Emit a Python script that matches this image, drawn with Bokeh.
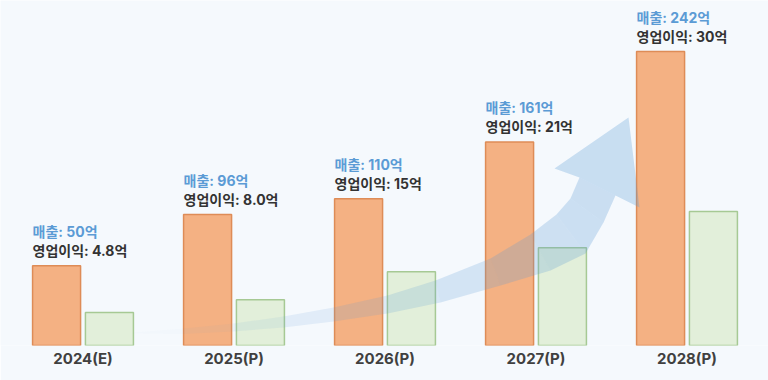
from bokeh.plotting import figure
from bokeh.models import ColumnDataSource, Range1d, FixedTicker
from bokeh.core.properties import value
from bokeh.embed import file_html
from bokeh.resources import INLINE
import numpy as np

# ---- data ----
CATEGORIES = ["2024(E)", "2025(P)", "2026(P)", "2027(P)", "2028(P)"]
REVENUE = [50, 96, 110, 161, 242]            # 매출 (억)
PROFIT = [4.8, 8.0, 15, 21, 30]              # 영업이익 (억)
PROFIT_TEXT = ["4.8", "8.0", "15", "21", "30"]

# ---- style / layout ----
BG = "#f5f9fd"
ORANGE_FILL, ORANGE_LINE = "#f4b183", "#de8c57"
GREEN_FILL, GREEN_LINE = "#e2efda", "#a6c994"
BLUE_TXT, DARK_TXT = "#5b9bd5", "#333333"
FONT = "Inter, Noto Sans CJK KR"
W, H = 768, 380
BOTTOM = 35
FRAME_H = H - BOTTOM
GROUP_PX = 151
X_START = -82.5 / GROUP_PX
REV_RANGE = (-21.6, -21.6 + FRAME_H / 1.115)
PRO_RANGE = (-3.42, -3.42 + FRAME_H / 4.006)
BAR_W = 48 / GROUP_PX
DODGE = 0.175

# decorative arrow outline in page pixels (upper edge, lower edge, head)
ARROW_UPPER = [(133, 332), (183, 328), (233, 323), (283, 316), (333, 307), (387, 295),
               (435, 280), (490, 258), (530, 234), (556, 214), (570, 198), (579, 177)]
ARROW_LOWER = [(133, 333), (183, 333.5), (233, 331), (283, 327), (333, 321), (387, 313),
               (440, 302), (500, 285), (550, 270), (585, 253), (603, 222), (615, 195)]
ARROW_HEAD = [(579, 177), (554, 168), (628, 117), (639, 207), (615, 195)]
ARROW_ALPHA = [0.02, 0.05, 0.09, 0.13, 0.16, 0.19, 0.22, 0.24, 0.26, 0.27, 0.28]
ARROW_COLOR = "#5b9bd5"
MARGIN = 0

idx = np.arange(len(CATEGORIES))
src = ColumnDataSource(dict(
    x_rev=idx - DODGE, x_pro=idx + DODGE, x_txt=idx - DODGE - BAR_W / 2,
    rev=REVENUE, pro=PROFIT,
    rev_label=[f"매출: {v}억" for v in REVENUE],
    pro_label=[f"영업이익: {t}억" for t in PROFIT_TEXT],
))

p = figure(width=W, height=H, output_backend="svg", toolbar_location=None, tools="",
           x_range=Range1d(X_START, X_START + W / GROUP_PX),
           y_range=Range1d(*REV_RANGE), y_axis_location=None,
           min_border_left=0, min_border_right=0, min_border_top=0, min_border_bottom=BOTTOM)
p.extra_y_ranges = {"profit": Range1d(*PRO_RANGE), "py": Range1d(FRAME_H, 0)}
p.extra_x_ranges = {"px": Range1d(0, W)}
p.background_fill_color = BG
p.border_fill_color = BG
p.outline_line_color = None
p.grid.visible = False

p.vbar(x="x_rev", top="rev", bottom=REV_RANGE[0], width=BAR_W, source=src,
       fill_color=ORANGE_FILL, line_color=ORANGE_LINE, line_width=1.5)
p.vbar(x="x_pro", top="pro", bottom=PRO_RANGE[0], width=BAR_W, source=src,
       y_range_name="profit", fill_color=GREEN_FILL, line_color=GREEN_LINE, line_width=1.5)

# arrow (decoration) drawn as quads with increasing opacity
up = np.array(ARROW_UPPER, dtype=float) - MARGIN
lo = np.array(ARROW_LOWER, dtype=float) - MARGIN
for i in range(len(up) - 1):
    xs = [up[i, 0], up[i + 1, 0], lo[i + 1, 0], lo[i, 0]]
    ys = [up[i, 1], up[i + 1, 1], lo[i + 1, 1], lo[i, 1]]
    p.patch(xs, ys, x_range_name="px", y_range_name="py", fill_color=ARROW_COLOR,
            fill_alpha=ARROW_ALPHA[i], line_color=None)
hd = np.array(ARROW_HEAD, dtype=float) - MARGIN
p.patch(hd[:, 0], hd[:, 1], x_range_name="px", y_range_name="py", fill_color=ARROW_COLOR,
        fill_alpha=0.29, line_color=None)

p.text(x="x_txt", y="rev", text="rev_label", source=src, y_offset=-34,
       text_font=value(FONT), text_font_size="14px", text_font_style="bold",
       text_color=BLUE_TXT, text_align="left", text_baseline="middle")
p.text(x="x_txt", y="rev", text="pro_label", source=src, y_offset=-15,
       text_font=value(FONT), text_font_size="14px", text_font_style="bold",
       text_color=DARK_TXT, text_align="left", text_baseline="middle")

ax = p.xaxis[0]
ax.ticker = FixedTicker(ticks=list(idx))
ax.major_label_overrides = {int(i): c for i, c in zip(idx, CATEGORIES)}
ax.axis_line_color = None
ax.major_tick_line_color = None
ax.minor_tick_line_color = None
ax.major_tick_out = 0
ax.major_tick_in = 0
ax.major_label_standoff = 3
ax.major_label_text_font = FONT
ax.major_label_text_font_size = "15px"
ax.major_label_text_font_style = "bold"
ax.major_label_text_color = "#404040"

open("out.html", "w").write(file_html(p, INLINE))
